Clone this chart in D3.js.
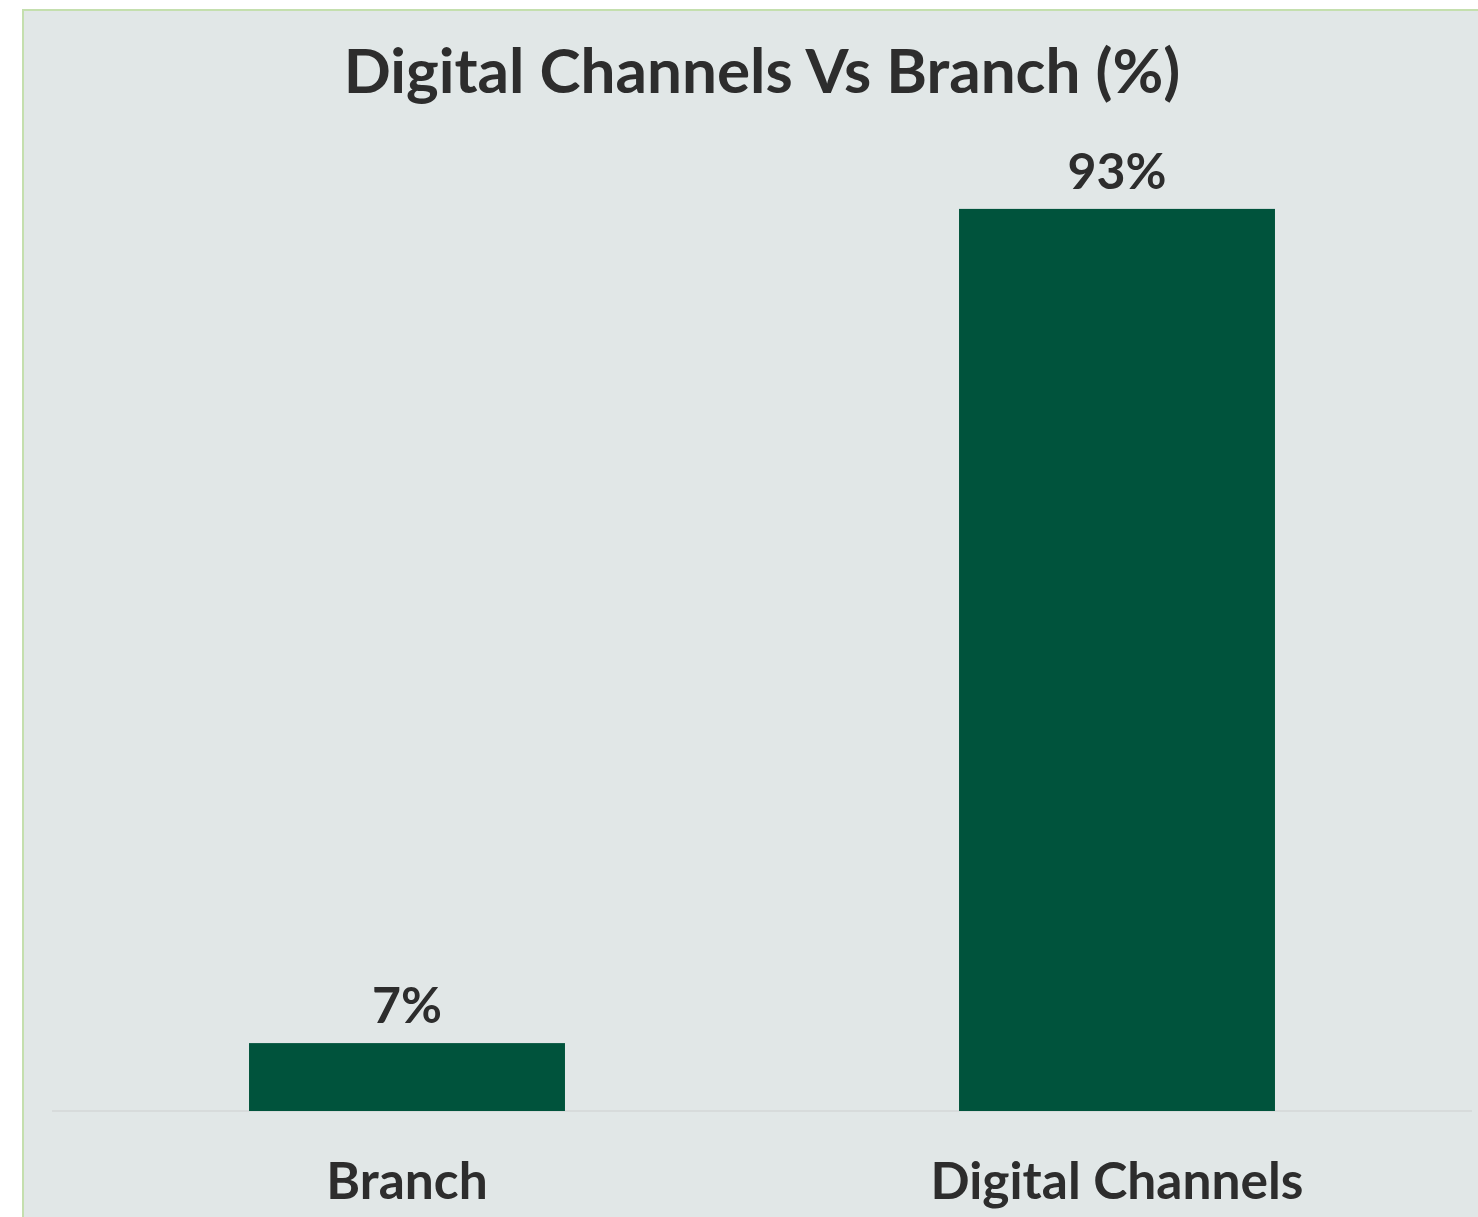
<!DOCTYPE html>
<html>
<head>
<meta charset="utf-8">
<script src="https://cdn.jsdelivr.net/npm/d3@7"></script>
<style>
  body { margin: 0; background: #fff; }
  svg { display: block; font-family: Lato, "Open Sans", sans-serif; }
</style>
</head>
<body>
<svg id="chart"></svg>
<script>
// chart data
const categories = ["Branch", "Digital Channels"];
const values = [7, 93];
const valueLabels = ["7%", "93%"];
const title = "Digital Channels Vs Branch (%)";

const W = 1478, H = 1217;
const margin = { top: 141, right: 6, bottom: 106, left: 52 };

const svg = d3.select("#chart")
    .attr("width", W)
    .attr("height", H);

// panel background with light green edge
svg.append("rect")
    .attr("x", 23)
    .attr("y", 10)
    .attr("width", W)
    .attr("height", H)
    .attr("fill", "#e1e7e7")
    .attr("stroke", "#c4dfae")
    .attr("stroke-width", 2);

svg.append("text")
    .attr("x", 762)
    .attr("y", 93)
    .attr("text-anchor", "middle")
    .attr("fill", "#2d2d2d")
    .style("font-weight", 700)
    .style("font-size", "62px")
    .text(title);

const g = svg.append("g")
    .attr("transform", `translate(${margin.left},${margin.top})`);

const innerW = W - margin.left - margin.right;
const innerH = H - margin.top - margin.bottom;

const x = d3.scaleBand()
    .domain(categories)
    .range([0, innerW])
    .paddingInner(0.555)
    .paddingOuter(0.2775);

const y = d3.scaleLinear()
    .domain([0, 100])
    .range([innerH, 0]);

// baseline
g.append("line")
    .attr("x1", 0)
    .attr("x2", innerW)
    .attr("y1", y(0))
    .attr("y2", y(0))
    .attr("stroke", "#d7dbdb")
    .attr("stroke-width", 2);

g.selectAll("rect.bar")
    .data(values)
    .enter().append("rect")
    .attr("class", "bar")
    .attr("x", (d, i) => x(categories[i]))
    .attr("y", d => y(d))
    .attr("width", x.bandwidth())
    .attr("height", d => y(0) - y(d))
    .attr("fill", "#00533c");

// value labels
g.selectAll("text.val")
    .data(values)
    .enter().append("text")
    .attr("class", "val")
    .attr("x", (d, i) => x(categories[i]) + x.bandwidth() / 2)
    .attr("y", d => y(d) - 20)
    .attr("text-anchor", "middle")
    .attr("fill", "#2d2d2d")
    .style("font-weight", 700)
    .style("font-size", "50px")
    .text((d, i) => valueLabels[i]);

// x axis, no line or ticks
const xAxis = g.append("g")
    .attr("transform", `translate(0,${innerH})`)
    .call(d3.axisBottom(x).tickSize(0).tickPadding(0));
xAxis.select(".domain").remove();
xAxis.selectAll("text")
    .attr("y", 88)
    .attr("dy", 0)
    .attr("fill", "#2d2d2d")
    .style("font-family", "Lato, 'Open Sans', sans-serif")
    .style("font-weight", 700)
    .style("font-size", "51.5px");
</script>
</body>
</html>
